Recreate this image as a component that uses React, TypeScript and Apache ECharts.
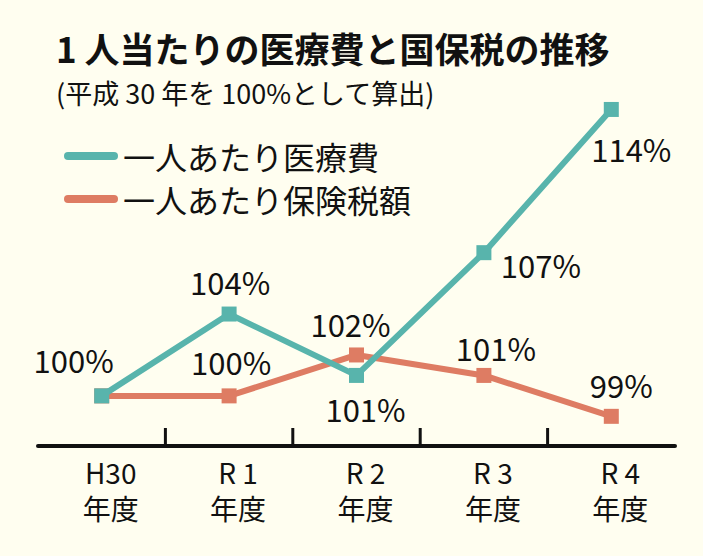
import React, { useEffect, useRef } from "react";
import * as echarts from "echarts";

const categories = ["H30", "R 1", "R 2", "R 3", "R 4"];
const medicalCost = [100, 104, 101, 107, 114];
const taxAmount = [100, 100, 102, 101, 99];
const medicalLabelOffsets = [
  [-28, -36],
  [1, -33],
  [9, 33],
  [57, 12],
  [20, 39],
];
const taxLabelOffsets = [
  null,
  [2, -34],
  [-6, -31],
  [12, -28],
  [10, -32],
];
const seriesNames = ["一人あたり医療費", "一人あたり保険税額"];
const titleText = "1 人当たりの医療費と国保税の推移";
const subtitleText = "(平成 30 年を 100%として算出)";

const TEAL = "#58B4AC";
const ORANGE = "#DE7C63";
const INK = "#111111";
const FONT = '"Noto Sans CJK JP", "Noto Sans", sans-serif';
const Y_MIN = 97.55;
const Y_MAX = 115;

function buildData(values: number[], offsets: (number[] | null)[]) {
  return values.map((v, i) => {
    const off = offsets[i];
    if (!off) return { value: v, label: { show: false } };
    return {
      value: v,
      label: {
        show: true,
        position: "inside",
        offset: off,
        formatter: `${v}%`,
      },
    };
  });
}

export default function App() {
  const ref = useRef<HTMLDivElement>(null);
  useEffect(() => {
    if (!ref.current) return;
    const chart = echarts.init(ref.current, undefined, { renderer: "svg" });
    const labelStyle = {
      color: INK,
      fontSize: 31,
      fontFamily: FONT,
    };
    chart.setOption({
      animation: false,
      backgroundColor: "#FFFEF0",
      title: [
        {
          text: titleText,
          left: 56,
          top: 30,
          padding: 0,
          textStyle: {
            color: INK,
            fontSize: 35,
            fontWeight: "bold",
            fontFamily: FONT,
          },
        },
        {
          text: subtitleText,
          left: 56,
          top: 79,
          padding: 0,
          textStyle: {
            color: INK,
            fontSize: 27,
            fontWeight: "normal",
            fontFamily: FONT,
          },
        },
      ],
      legend: {
        data: seriesNames,
        orient: "vertical",
        left: 64,
        top: 140,
        padding: 0,
        itemGap: 11,
        itemWidth: 54,
        itemHeight: 8,
        icon: "path://M4,0 L50,0 A4,4 0 0 1 50,8 L4,8 A4,4 0 0 1 4,0 Z",
        textStyle: {
          color: INK,
          fontSize: 32,
          fontFamily: FONT,
        },
      },
      grid: {
        left: 38,
        right: 28,
        top: 89,
        bottom: 110,
        containLabel: false,
      },
      xAxis: {
        type: "category",
        data: categories,
        boundaryGap: true,
        axisLine: { show: true, lineStyle: { color: INK, width: 4 } },
        axisTick: { show: false },
        axisLabel: {
          color: INK,
          fontSize: 28,
          lineHeight: 36,
          fontFamily: FONT,
          margin: 8,
          padding: [0, 0, 0, 18],
          interval: 0,
          formatter: (v: string) => `${v}\n年度`,
        },
        splitLine: { show: false },
      },
      yAxis: {
        type: "value",
        min: Y_MIN,
        max: Y_MAX,
        show: false,
        splitLine: { show: false },
      },
      series: [
        {
          type: "custom",
          silent: true,
          z: 3,
          data: categories.slice(0, -1).map((_, i) => [i, Y_MIN]),
          renderItem: (params: any, api: any) => {
            const c = api.coord([api.value(0), api.value(1)]);
            const bw = api.size([1, 0])[0];
            const x = c[0] + bw / 2;
            return {
              type: "line",
              shape: { x1: x, y1: c[1], x2: x, y2: c[1] - 18 },
              style: { stroke: INK, lineWidth: 3 },
            };
          },
        },
        {
          name: seriesNames[1],
          type: "line",
          data: buildData(taxAmount, taxLabelOffsets),
          symbol: "rect",
          symbolSize: 15,
          itemStyle: { color: ORANGE },
          lineStyle: { color: ORANGE, width: 6 },
          label: labelStyle,
          z: 2,
        },
        {
          name: seriesNames[0],
          type: "line",
          data: buildData(medicalCost, medicalLabelOffsets),
          symbol: "rect",
          symbolSize: 15,
          itemStyle: { color: TEAL },
          lineStyle: { color: TEAL, width: 6 },
          label: labelStyle,
          z: 4,
        },
      ],
    });
    return () => chart.dispose();
  }, []);
  return (
    <div
      ref={ref}
      style={{ position: "fixed", left: 0, top: 0, width: 703, height: 556 }}
    />
  );
}
